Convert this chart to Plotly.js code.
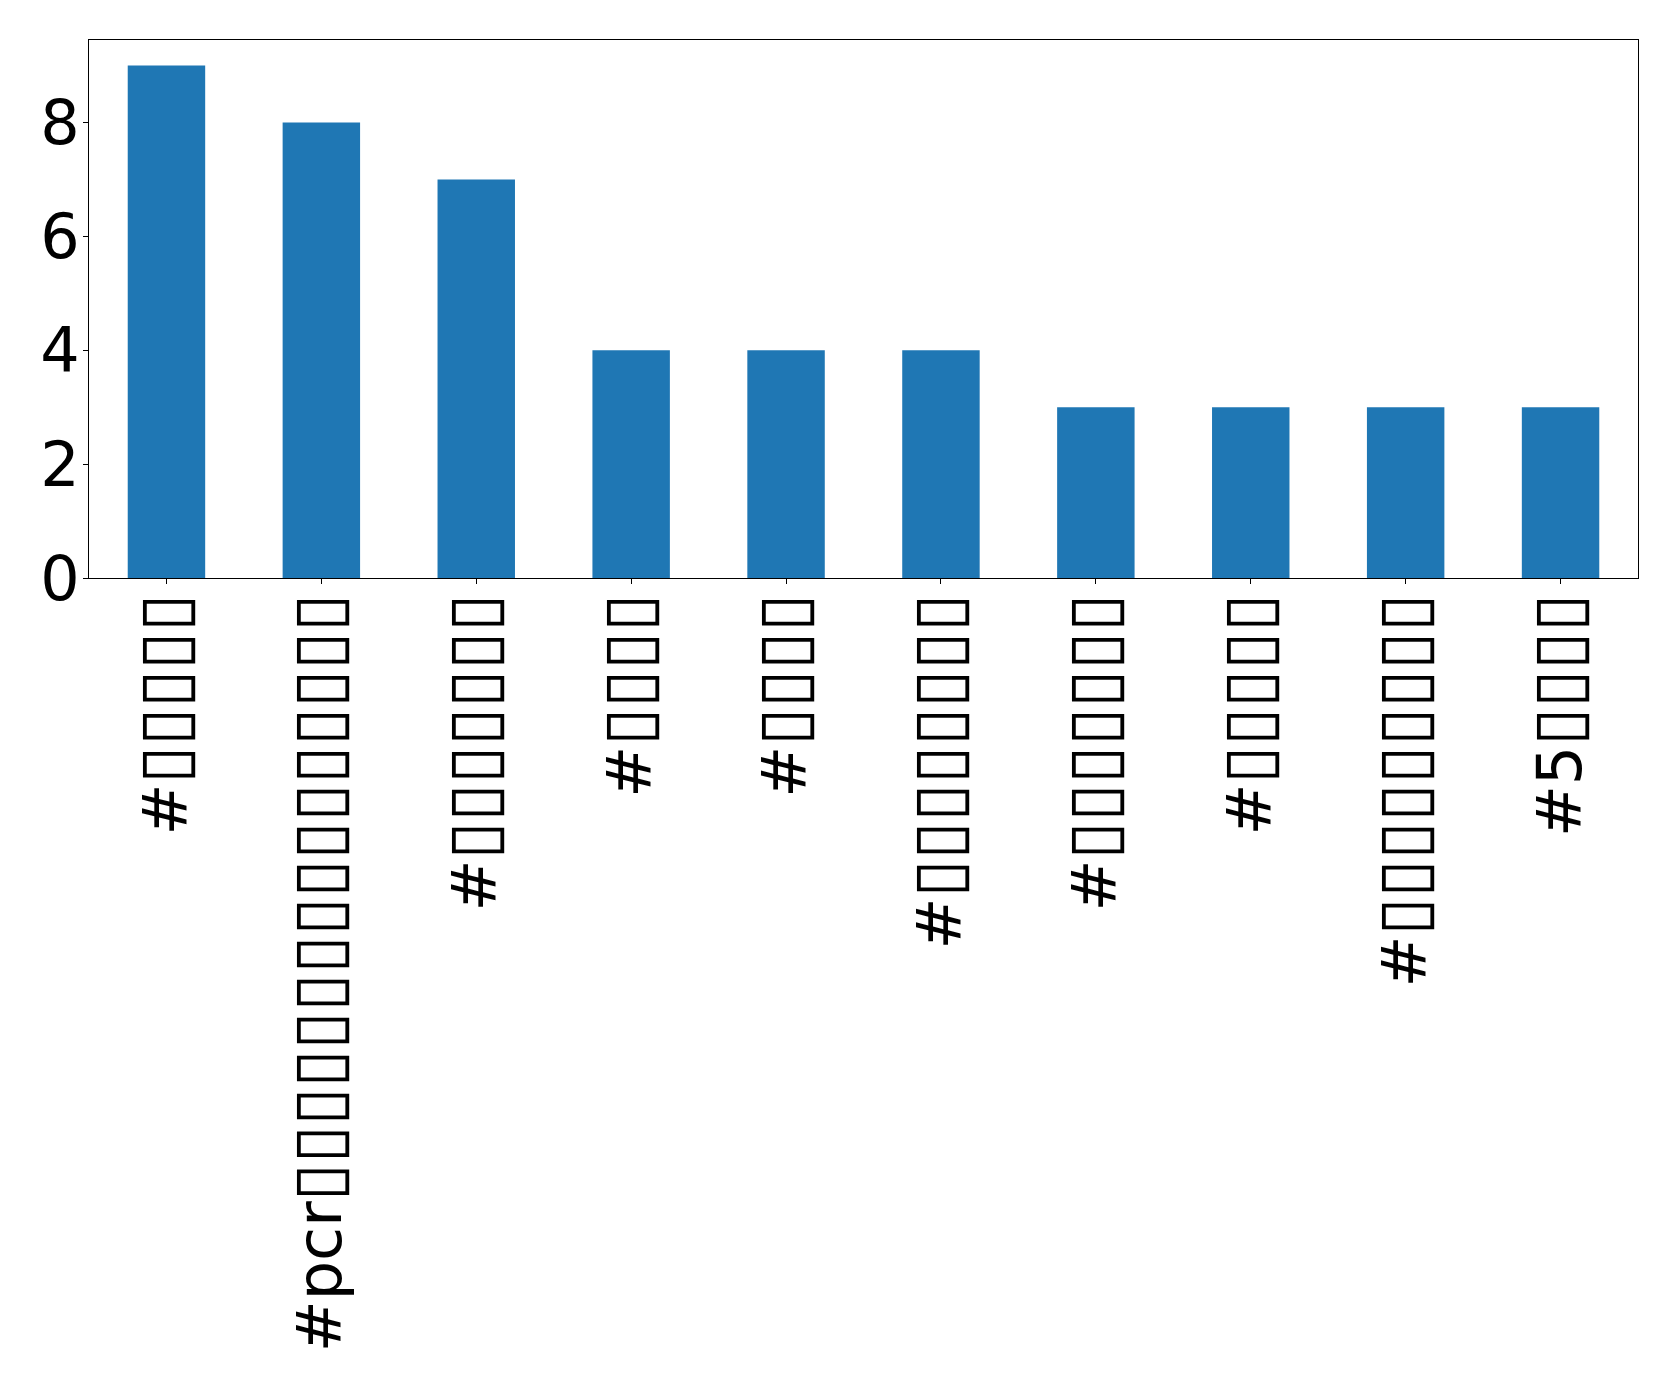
<!DOCTYPE html>
<html>
<head>
<meta charset="utf-8">
<script src="https://cdn.plot.ly/plotly-3.0.1.min.js"></script>
<style>html,body{margin:0;padding:0;background:#fff;}</style>
</head>
<body>
<div id="chart" style="width:1679px;height:1380px;"></div>
<script>
// Tick labels: the original glyphs were rendered as missing-glyph boxes; shown here with ▯
const categories = [
  "#▯▯▯▯▯",
  "#pcr▯▯▯▯▯▯▯▯▯▯▯▯▯▯▯▯",
  "#▯▯▯▯▯▯▯",
  "#▯▯▯▯",
  "#▯▯▯▯",
  "#▯▯▯▯▯▯▯▯",
  "#▯▯▯▯▯▯▯",
  "#▯▯▯▯▯",
  "#▯▯▯▯▯▯▯▯▯",
  "#5▯▯▯▯"
];
const counts = [9, 8, 7, 4, 4, 4, 3, 3, 3, 3];
const yTicks = [0, 2, 4, 6, 8];

const positions = categories.map((_, i) => i);
// enlarge the box glyphs to match the missing-glyph boxes of the reference
const tickText = categories.map(s => s.replace(/(▯+)/g, '<span style="font-size:69px">$1</span>'));

const trace = {
  type: 'bar',
  x: positions,
  y: counts,
  width: 0.5,
  marker: {color: '#1f77b4', line: {width: 0}},
  hoverinfo: 'skip'
};

const layout = {
  width: 1679,
  height: 1380,
  margin: {l: 89, r: 41, t: 40, b: 802, pad: 0},
  paper_bgcolor: '#fff',
  plot_bgcolor: '#fff',
  showlegend: false,
  font: {family: 'DejaVu Sans', color: '#000', size: 62},
  xaxis: {
    type: 'linear',
    range: [-0.5, 9.5],
    tickvals: positions,
    ticktext: tickText,
    tickangle: -90,
    ticks: 'outside',
    ticklen: 5,
    tickwidth: 1,
    tickcolor: '#000',
    ticklabelstandoff: -15,
    showline: true,
    linecolor: '#000',
    linewidth: 1,
    mirror: true,
    showgrid: false,
    zeroline: false,
    automargin: false,
    tickfont: {family: 'DejaVu Sans', size: 62, color: '#000'}
  },
  yaxis: {
    range: [0, 9.45],
    tickvals: yTicks,
    ticktext: yTicks.map(String),
    ticks: 'outside',
    ticklen: 5,
    tickwidth: 1,
    tickcolor: '#000',
    ticklabelstandoff: -9,
    showline: true,
    linecolor: '#000',
    linewidth: 1,
    mirror: true,
    showgrid: false,
    zeroline: false,
    automargin: false,
    tickfont: {family: 'DejaVu Sans', size: 62, color: '#000'}
  }
};

Plotly.newPlot('chart', [trace], layout, {staticPlot: true, displayModeBar: false});
</script>
</body>
</html>
